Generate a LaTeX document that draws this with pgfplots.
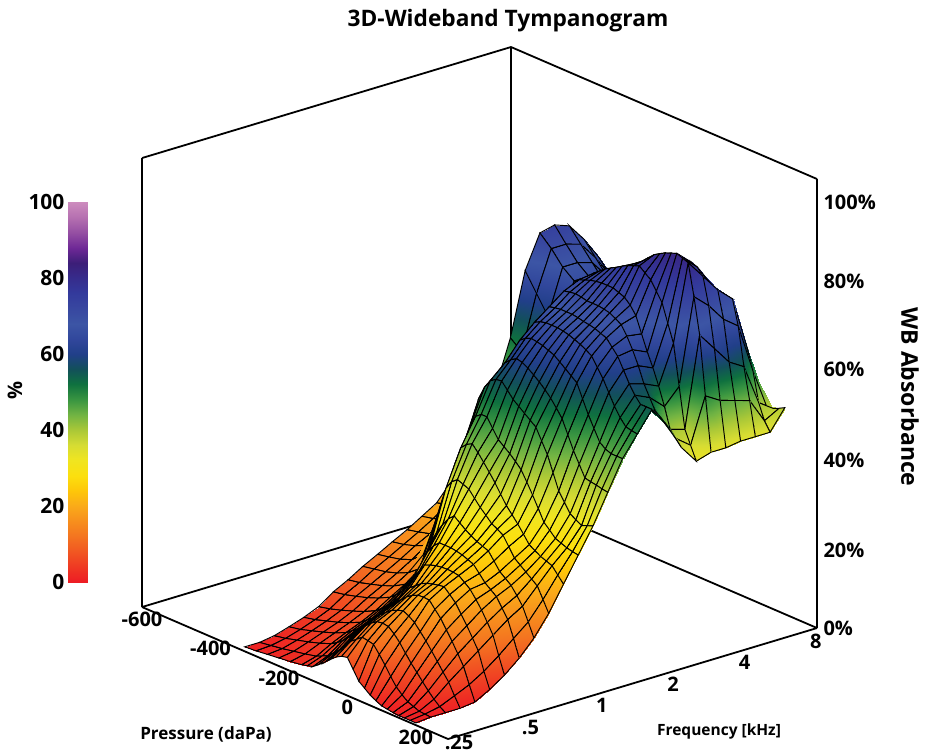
\documentclass[border=0pt]{standalone}
\usepackage{pgfplots}
\usepackage{fontspec}
\setmainfont{Open Sans}
\pgfplotsset{compat=1.18}
\pgfplotsset{colormap={wb}{
rgb255=(237,28,36) rgb255=(239,57,35) rgb255=(241,86,34) rgb255=(244,117,32) rgb255=(247,143,29)
rgb255=(250,170,25) rgb255=(254,198,9) rgb255=(252,223,14) rgb255=(240,229,32) rgb255=(214,220,51)
rgb255=(170,200,55) rgb255=(114,180,67) rgb255=(58,150,65) rgb255=(15,113,63) rgb255=(18,80,90)
rgb255=(33,63,137) rgb255=(49,71,156) rgb255=(60,85,165) rgb255=(56,71,160) rgb255=(51,58,156)
rgb255=(54,44,140) rgb255=(60,30,120) rgb255=(110,40,150) rgb255=(150,80,163) rgb255=(182,113,177)
rgb255=(205,140,190)}}
\begin{document}
\begin{tikzpicture}[x=1pt,y=1pt]
\useasboundingbox (0,0) rectangle (925,-755);
\begin{axis}[
 at={(352.4pt,-694.1pt)},anchor=origin,
 x={(0.3423pt,-0.14765pt)},y={(71.37pt,21.47pt)},z={(0pt,4.49pt)},
 xmin=-600,xmax=294,ymin=-0.07,ymax=5.10,zmin=0,zmax=100,
 clip=false,
 axis line style={line width=1.8pt,black},
 major tick length=0pt,
 xtick={-600,-400,-200,0,200},
 ytick={0,1,2,3,4,5},yticklabels={\raisebox{6pt}[\height][\depth]{.25},.5,1,2,4,8},
 ztick={0,17.4,37.4,57.5,77.3,94.9},zticklabels={0\%,20\%,40\%,60\%,80\%,100\%},
 ztick pos=right,
 tick label style={font=\bfseries\fontsize{20}{22}\selectfont},
 x tick label style={anchor=center,yshift=-12pt},
 y tick label style={anchor=center,xshift=6pt,yshift=-11pt},
 z tick label style={anchor=west,xshift=3pt},
 /pgf/number format/assume math mode=true,
 colormap name=wb,point meta min=0,point meta max=100,
]
\addplot3[surf,shader=faceted interp,mesh/cols=26,line width=0.95pt,faceted color=black,point meta=explicit]
table[row sep=\\,x expr={-300+33.3333*min(mod(\coordindex,26),5)+16.6667*max(mod(\coordindex,26)-5,0)},y expr={-0.07+0.2068*floor((\coordindex+0.5)/26)},z=z,
 meta expr={\thisrow{z}-((\coordindex+0.5)/26>=18)*(mod(\coordindex,26)>=19)*7*min(1,max(0,(60-\thisrow{z})/14))}]{
z\\
1\\1.2\\1.5\\1.8\\2.1\\2.5\\2.8\\3.2\\4.2\\5.2\\6.4\\7.5\\8.2\\8.5\\6.4\\4.3\\3.3\\2.3\\1.6\\1\\.8\\.6\\.5\\.5\\.5\\.5\\
1\\1.4\\1.8\\2.3\\2.8\\3.4\\4\\4.6\\5.8\\7\\8.5\\10\\11\\12\\11.8\\11.5\\9.8\\8\\6\\4.2\\3\\2\\1.5\\1\\.9\\.8\\
1.5\\2\\2.7\\3.4\\4.2\\5.2\\6\\7\\8.2\\9.5\\11\\12.5\\13.6\\14.5\\14.7\\14.5\\13.4\\12\\10.2\\8.5\\7\\5.5\\4\\2.7\\1.6\\.8\\
2.5\\3\\3.8\\4.6\\5.5\\6.7\\7.6\\8.6\\9.8\\11\\12.5\\14\\15\\16\\16.6\\17\\16.4\\15.5\\14\\12.5\\10.8\\9\\7.2\\5.5\\3\\.8\\
3.6\\4.2\\5\\5.8\\6.8\\8\\9\\10\\11.2\\12.5\\14\\15.5\\16.8\\18\\18.9\\19.5\\19.6\\19.5\\18\\16.5\\14.5\\12.5\\10.3\\8\\4.5\\1.2\\
5\\5.6\\6.4\\7.3\\8.3\\9.6\\10.6\\11.8\\13.1\\14.5\\16.2\\18\\19\\20\\20.6\\21\\21.3\\21.5\\20.3\\19\\17\\15\\12.8\\10.5\\6.5\\3\\
7.3\\7.8\\8.5\\9.3\\10.3\\11.6\\12.7\\14\\16\\18\\20\\22\\22.6\\23\\23.2\\23.3\\23.2\\23\\22\\21\\19.3\\17.5\\15.3\\13\\9\\5.2\\
9\\9.5\\10.2\\11\\12\\13.5\\15\\17\\20\\23\\24.8\\26\\26\\26\\25.8\\25.5\\25\\24.5\\23\\21.5\\20.5\\19.5\\17.5\\15.5\\11.8\\8\\
11\\11.5\\12\\12.8\\14\\16\\19\\23\\25.8\\28\\29.8\\31\\30\\29\\28.2\\27.5\\27\\26.5\\24.8\\23\\22\\21\\19.3\\17.5\\14.5\\11.5\\
12.7\\13.2\\13.8\\14.8\\17\\25\\29.5\\34\\36\\37\\36.5\\36\\34.5\\33\\31.8\\30.5\\29.8\\29\\27\\25\\24\\23\\22\\21\\18.5\\16\\
14.5\\15\\15.8\\17\\20\\33\\38\\42\\43.3\\44\\42.6\\41\\39.3\\37.5\\35.5\\33.5\\32\\30.5\\28.8\\27\\26.2\\25.5\\25\\24.5\\23\\21.5\\
16.2\\16.8\\17.5\\19\\23\\41\\45\\48\\49\\49\\47\\45\\44\\43\\41.8\\40.5\\38.3\\36\\33.5\\31\\29.8\\28.5\\28\\27.5\\27.2\\27\\
18.2\\18.8\\19.8\\22\\28\\50\\53\\55\\55.8\\56\\54.5\\53\\52\\51\\50\\49\\46.5\\44\\40.5\\37\\35\\33\\32.2\\31.5\\32\\32.5\\
20.2\\21\\22\\25\\33\\52\\55.5\\58\\59.2\\60\\59.7\\59\\58\\57\\55.8\\54.5\\52.8\\51\\48\\45\\42.5\\40\\39.7\\39.5\\39.2\\39\\
24\\25\\26\\29\\38\\54\\58.5\\62\\63\\63.5\\63.3\\63\\62.5\\62\\61\\60\\59\\58\\55\\52\\49.5\\47\\46\\45.5\\45.5\\45.5\\
29\\30\\31\\34\\43\\57\\61.5\\65\\65.7\\66\\66\\66\\65.8\\65.5\\65\\64.5\\63.8\\63\\61\\59\\56.5\\54\\52\\50.5\\50.2\\50\\
35\\35\\36\\38\\48\\62\\65\\67.5\\67.8\\68\\68\\68\\67.8\\67.5\\67.3\\67\\66.5\\66\\64.5\\63\\60.5\\58\\56\\54.5\\54.5\\54.5\\
42\\41\\41\\44\\54\\65\\68\\70\\70.3\\70.5\\70.3\\70\\70\\70\\69.8\\69.5\\68.8\\68\\66\\63.5\\60.5\\57\\54.5\\52\\51\\50\\
52\\50\\50\\52\\58\\66\\69\\71.5\\72\\72.5\\72.8\\73\\73\\73\\72.5\\72\\70.8\\69\\65.5\\62\\59\\55.5\\51.5\\47\\45.5\\44\\
66\\62\\58\\57\\60\\67\\70\\72\\73\\74\\74.8\\75.5\\76.3\\77\\77.5\\78\\77\\76\\74\\72\\68\\64\\55\\46\\43\\40\\
73.4\\71\\68\\66\\66\\69\\70.5\\71.7\\72.4\\73\\74\\75\\76\\77\\78.3\\79.5\\80.3\\81\\81.5\\82\\81.5\\81\\74\\66\\53\\41\\
74.2\\71\\68\\66\\65\\66\\67\\68\\69\\70\\71\\72\\73\\74\\75\\76\\77\\78\\78.5\\79\\78.5\\77\\71\\62\\51\\41\\
73\\70\\67\\64\\62\\62\\62.5\\63\\64\\65\\66\\67\\68\\69\\70\\71\\71.8\\72.5\\73\\73.5\\73.5\\73\\67\\58\\50\\41.5\\
69\\66\\63\\60\\58\\57\\57.5\\58\\58.5\\59\\60\\61\\62\\63\\64\\65\\66\\67\\68\\69\\69.7\\70\\64.5\\56\\49\\41.5\\
64\\61\\58\\55\\53\\52\\52\\52\\52.5\\53\\53.5\\54\\54.5\\55\\55.5\\56\\56.5\\57\\58\\59\\59\\58\\53.5\\47\\43.5\\41.5\\
58\\55\\52\\50\\48\\47\\46.5\\46\\45.8\\45.5\\45.2\\45\\45\\45\\45\\45\\44.8\\44.5\\44.2\\44\\44\\43.8\\44\\44.7\\45.3\\46\\
};
\end{axis}
\begin{axis}[
 at={(68pt,-582pt)},anchor=south west,scale only axis,width=19pt,height=380pt,
 xmin=0,xmax=1,ymin=0,ymax=100,
 hide x axis,axis y line*=left,y axis line style={draw=none},
 ytick={0,20,40,60,80,100},
 ytick style={black,line width=1pt},major tick length=5pt,
 tick label style={font=\bfseries\fontsize{21}{23}\selectfont},
 /pgf/number format/assume math mode=true,
 colormap name=wb,point meta min=0,point meta max=100,
]
\addplot[surf,shader=interp,mesh/cols=2,point meta=y] coordinates {
(0,0)(1,0)
(0,4)(1,4)
(0,8)(1,8)
(0,12)(1,12)
(0,16)(1,16)
(0,20)(1,20)
(0,24)(1,24)
(0,28)(1,28)
(0,32)(1,32)
(0,36)(1,36)
(0,40)(1,40)
(0,44)(1,44)
(0,48)(1,48)
(0,52)(1,52)
(0,56)(1,56)
(0,60)(1,60)
(0,64)(1,64)
(0,68)(1,68)
(0,72)(1,72)
(0,76)(1,76)
(0,80)(1,80)
(0,84)(1,84)
(0,88)(1,88)
(0,92)(1,92)
(0,96)(1,96)
(0,100)(1,100)
};
\end{axis}
\node[font=\bfseries\fontsize{22.7}{25}\selectfont,anchor=center] at (508,-21) {3D-Wideband Tympanogram};
\node[font=\bfseries\fontsize{17}{20}\selectfont,anchor=center] at (206,-734) {Pressure (daPa)};
\node[font=\bfseries\fontsize{15.5}{18}\selectfont,anchor=center] at (719,-731) {Frequency [kHz]};
\node[font=\bfseries\fontsize{23}{25}\selectfont,rotate=-90,anchor=center] at (910,-397) {WB Absorbance};
\node[font=\bfseries\fontsize{20}{22}\selectfont,rotate=90,anchor=center] at (15,-390) {\%};
\end{tikzpicture}
\end{document}
